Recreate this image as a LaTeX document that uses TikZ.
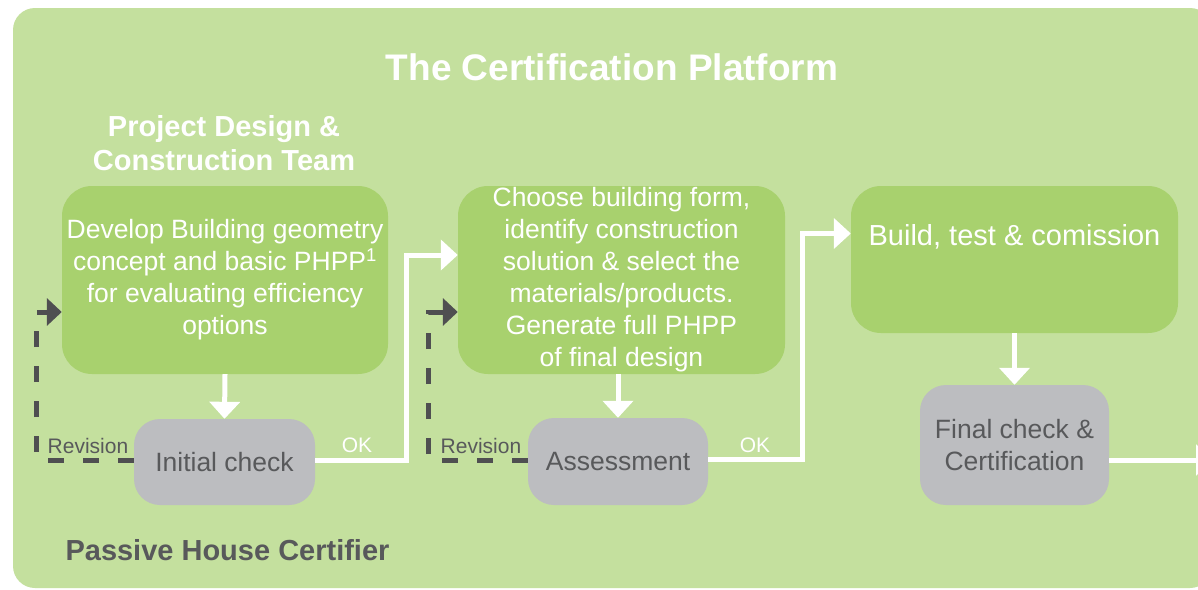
\documentclass[tikz,border=0pt]{standalone}
\usepackage{fontspec}
\setmainfont{Liberation Sans}
\usetikzlibrary{arrows.meta}

\definecolor{panelgreen}{HTML}{C4E09E}
\definecolor{boxgreen}{HTML}{A8D16E}
\definecolor{boxgrey}{HTML}{BCBDC0}
\definecolor{textgrey}{HTML}{58595B}
\definecolor{dashgrey}{HTML}{4F4F51}

\tikzset{
  greenbox/.style={fill=boxgreen, rounded corners=30pt, text=white, align=center,
    inner sep=0pt, font=\fontsize{26.5}{32}\selectfont},
  greybox/.style={fill=boxgrey, rounded corners=26pt, text=textgrey, align=center,
    inner sep=0pt, font=\fontsize{26.5}{32}\selectfont},
  flowarrow/.style={draw=white, line width=5pt, -{Triangle[width=30pt,length=17pt]}},
  revarrow/.style={draw=dashgrey, line width=5pt, dash pattern=on 16pt off 19pt,
    -{Triangle[width=27pt,length=15pt]}},
  smalllabel/.style={font=\fontsize{21}{24}\selectfont},
  headline/.style={font=\bfseries\fontsize{29}{34}\selectfont, align=center},
}

\begin{document}
\begin{tikzpicture}[x=1pt,y=-1pt]
            \clip (0,0) rectangle (1198,589);
            \fill[white] (0,0) rectangle (1198,589);

            %panel
            \fill[panelgreen, rounded corners=22pt] (13,8) rectangle (1212,588);

            \node[text=white, font=\bfseries\fontsize{37}{40}\selectfont] (title) at (612,67) {The Certification Platform};

            \node[headline, text=white] (team) at (224,143) {Project Design \&\\Construction Team};

            \node[headline, text=textgrey, anchor=west] (certifier) at (62,550) {Passive House Certifier};

            %design steps
            \node[greenbox, minimum width=326pt, minimum height=188pt] (develop) at (225,280)
              {Develop Building geometry\\concept and basic PHPP\textsuperscript{1}\\for evaluating efficiency\\options};

            \node[greenbox, minimum width=327pt, minimum height=188pt] (choose) at (621.5,280)
              {Choose building form,\\identify construction\\solution \& select the\\materials/products.\\Generate full PHPP\\of final design};

            \node[greenbox, minimum width=327pt, minimum height=147pt, text height=20pt, text depth=48pt,
              font=\fontsize{29}{34}\selectfont] (build) at (1014.5,259.5)
              {Build, test \& comission};

            %checks
            \node[greybox, minimum width=181pt, minimum height=86pt] (initial) at (224.5,462) {Initial check};

            \node[greybox, minimum width=180pt, minimum height=87pt] (assess) at (618,461.5) {Assessment};

            \node[greybox, minimum width=189pt, minimum height=120pt] (final) at (1014.5,445) {Final check \&\\Certification};

            %arrows
            \draw[flowarrow] (develop.south) -- (initial.north);

            \draw[flowarrow] (assess.north |- choose.south) -- (assess.north);

            \draw[flowarrow] (build.south) -- (final.north);

            \draw[flowarrow] ([yshift=2pt]initial.east) -- ++(91,0) |- ([yshift=25pt]choose.west);

            \draw[flowarrow] ([yshift=2pt]assess.east) -- ++(94,0) |- ([yshift=26pt]build.west);

            \draw[flowarrow] ([yshift=-15pt]final.east) -- ++(104,0);

            \draw[revarrow] ([yshift=2pt]initial.west) -- ++(-97,0) |- ([yshift=-32pt]develop.west);

            \draw[revarrow] ([yshift=1.5pt]assess.west) -- ++(-99,0) |- ([yshift=-32pt]choose.west);

            \node[smalllabel, text=white] (ok1) at (357,445) {OK};

            \node[smalllabel, text=white] (ok2) at (755,445) {OK};

            \node[smalllabel, text=textgrey] (rev1) at (88,446) {Revision};

            \node[smalllabel, text=textgrey] (rev2) at (481,446) {Revision};
        \end{tikzpicture}
\end{document}
